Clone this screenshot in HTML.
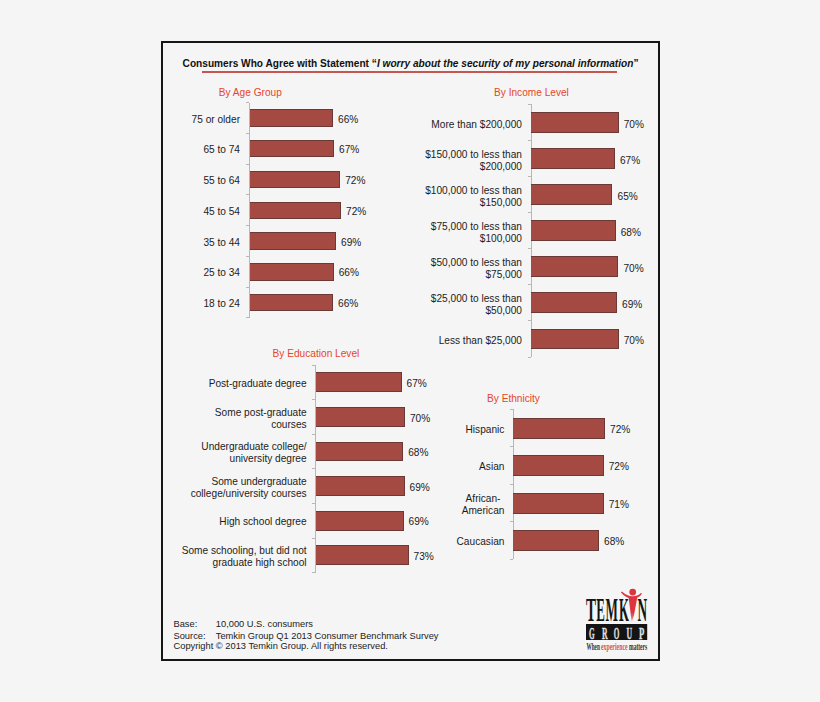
<!DOCTYPE html>
<html><head><meta charset="utf-8"><style>
html,body{margin:0;padding:0;}
body{width:820px;height:702px;background:#f5f5f5;position:relative;overflow:hidden;font-family:"Liberation Sans", Arial, sans-serif;color:#1c1c1c;}
.box{position:absolute;left:161px;top:41px;width:495px;height:616px;border:2px solid #161616;}
.t{position:absolute;left:182.6px;top:58.4px;font-size:10.15px;font-weight:bold;white-space:nowrap;color:#111;}
.ul{position:absolute;left:202.2px;top:71.4px;width:414.8px;height:1.9px;background:#c55752;}
.h{position:absolute;font-size:10.15px;color:#e5452a;white-space:nowrap;line-height:11.7px;}
.ax{position:absolute;width:1.2px;background:#b8b8b8;}
.tk{position:absolute;width:3px;height:1px;background:#b8b8b8;}
.b{position:absolute;box-sizing:border-box;background:#a54a43;border:1px solid #6c3a36;border-left:0;}
.l{position:absolute;font-size:10.15px;line-height:11.9px;text-align:right;white-space:nowrap;}
.v{position:absolute;font-size:10.15px;line-height:11.9px;white-space:nowrap;}
.f{position:absolute;font-size:9.3px;line-height:10.9px;white-space:nowrap;color:#1c1c1c;}
.logo{position:absolute;left:0;top:0;}
</style></head><body>
<div class="box"></div>
<div class="t">Consumers Who Agree with Statement &#8220;<i>I worry about the security of my personal information</i>&#8221;</div>
<div class="ul"></div>
<div class="h" style="left:218.80px;top:86.50px">By Age Group</div>
<div class="ax" style="left:249.20px;top:102.60px;height:215.39px"></div>
<div class="tk" style="left:246.20px;top:102.10px"></div>
<div class="tk" style="left:246.20px;top:132.87px"></div>
<div class="tk" style="left:246.20px;top:163.64px"></div>
<div class="tk" style="left:246.20px;top:194.41px"></div>
<div class="tk" style="left:246.20px;top:225.18px"></div>
<div class="tk" style="left:246.20px;top:255.95px"></div>
<div class="tk" style="left:246.20px;top:286.72px"></div>
<div class="tk" style="left:246.20px;top:317.49px"></div>
<div class="b" style="left:249.50px;top:109.28px;width:83.50px;height:17.40px"></div>
<div class="l" style="right:580.00px;top:113.63px;">75 or older</div>
<div class="v" style="left:338.00px;top:113.63px">66%</div>
<div class="b" style="left:249.50px;top:140.06px;width:84.50px;height:17.40px"></div>
<div class="l" style="right:580.00px;top:144.41px;">65 to 74</div>
<div class="v" style="left:339.00px;top:144.41px">67%</div>
<div class="b" style="left:249.50px;top:170.82px;width:90.70px;height:17.40px"></div>
<div class="l" style="right:580.00px;top:175.17px;">55 to 64</div>
<div class="v" style="left:345.20px;top:175.17px">72%</div>
<div class="b" style="left:249.50px;top:201.59px;width:91.50px;height:17.40px"></div>
<div class="l" style="right:580.00px;top:205.94px;">45 to 54</div>
<div class="v" style="left:346.00px;top:205.94px">72%</div>
<div class="b" style="left:249.50px;top:232.37px;width:86.50px;height:17.40px"></div>
<div class="l" style="right:580.00px;top:236.72px;">35 to 44</div>
<div class="v" style="left:341.00px;top:236.72px">69%</div>
<div class="b" style="left:249.50px;top:263.13px;width:84.20px;height:17.40px"></div>
<div class="l" style="right:580.00px;top:267.49px;">25 to 34</div>
<div class="v" style="left:338.70px;top:267.49px">66%</div>
<div class="b" style="left:249.50px;top:293.90px;width:83.50px;height:17.40px"></div>
<div class="l" style="right:580.00px;top:298.25px;">18 to 24</div>
<div class="v" style="left:338.00px;top:298.25px">66%</div>
<div class="h" style="left:494.00px;top:86.50px">By Income Level</div>
<div class="ax" style="left:530.60px;top:104.30px;height:252.70px"></div>
<div class="tk" style="left:527.60px;top:103.80px"></div>
<div class="tk" style="left:527.60px;top:139.90px"></div>
<div class="tk" style="left:527.60px;top:176.00px"></div>
<div class="tk" style="left:527.60px;top:212.10px"></div>
<div class="tk" style="left:527.60px;top:248.20px"></div>
<div class="tk" style="left:527.60px;top:284.30px"></div>
<div class="tk" style="left:527.60px;top:320.40px"></div>
<div class="tk" style="left:527.60px;top:356.50px"></div>
<div class="b" style="left:530.90px;top:111.95px;width:87.80px;height:20.80px"></div>
<div class="l" style="right:298.00px;top:118.60px;">More than $200,000</div>
<div class="v" style="left:623.70px;top:118.60px">70%</div>
<div class="b" style="left:530.90px;top:148.05px;width:84.00px;height:20.80px"></div>
<div class="l" style="right:298.00px;top:148.75px;">$150,000 to less than<br>$200,000</div>
<div class="v" style="left:619.90px;top:154.70px">67%</div>
<div class="b" style="left:530.90px;top:184.15px;width:81.60px;height:20.80px"></div>
<div class="l" style="right:298.00px;top:184.85px;">$100,000 to less than<br>$150,000</div>
<div class="v" style="left:617.50px;top:190.80px">65%</div>
<div class="b" style="left:530.90px;top:220.25px;width:84.80px;height:20.80px"></div>
<div class="l" style="right:298.00px;top:220.95px;">$75,000 to less than<br>$100,000</div>
<div class="v" style="left:620.70px;top:226.90px">68%</div>
<div class="b" style="left:530.90px;top:256.35px;width:87.50px;height:20.80px"></div>
<div class="l" style="right:298.00px;top:257.05px;">$50,000 to less than<br>$75,000</div>
<div class="v" style="left:623.40px;top:263.00px">70%</div>
<div class="b" style="left:530.90px;top:292.45px;width:86.10px;height:20.80px"></div>
<div class="l" style="right:298.00px;top:293.15px;">$25,000 to less than<br>$50,000</div>
<div class="v" style="left:622.00px;top:299.10px">69%</div>
<div class="b" style="left:530.90px;top:328.55px;width:87.80px;height:20.80px"></div>
<div class="l" style="right:298.00px;top:335.20px;">Less than $25,000</div>
<div class="v" style="left:623.70px;top:335.20px">70%</div>
<div class="h" style="left:272.60px;top:348.10px">By Education Level</div>
<div class="ax" style="left:315.20px;top:365.00px;height:207.60px"></div>
<div class="tk" style="left:312.20px;top:364.50px"></div>
<div class="tk" style="left:312.20px;top:399.10px"></div>
<div class="tk" style="left:312.20px;top:433.70px"></div>
<div class="tk" style="left:312.20px;top:468.30px"></div>
<div class="tk" style="left:312.20px;top:502.90px"></div>
<div class="tk" style="left:312.20px;top:537.50px"></div>
<div class="tk" style="left:312.20px;top:572.10px"></div>
<div class="b" style="left:315.50px;top:372.45px;width:86.00px;height:19.70px"></div>
<div class="l" style="right:513.40px;top:377.95px;">Post-graduate degree</div>
<div class="v" style="left:406.50px;top:377.95px">67%</div>
<div class="b" style="left:315.50px;top:407.05px;width:89.40px;height:19.70px"></div>
<div class="l" style="right:513.40px;top:406.60px;">Some post-graduate<br>courses</div>
<div class="v" style="left:409.90px;top:412.55px">70%</div>
<div class="b" style="left:315.50px;top:441.65px;width:87.70px;height:19.70px"></div>
<div class="l" style="right:513.40px;top:441.20px;">Undergraduate college/<br>university degree</div>
<div class="v" style="left:408.20px;top:447.15px">68%</div>
<div class="b" style="left:315.50px;top:476.25px;width:89.00px;height:19.70px"></div>
<div class="l" style="right:513.40px;top:475.80px;">Some undergraduate<br>college/university courses</div>
<div class="v" style="left:409.50px;top:481.75px">69%</div>
<div class="b" style="left:315.50px;top:510.85px;width:88.00px;height:19.70px"></div>
<div class="l" style="right:513.40px;top:516.35px;">High school degree</div>
<div class="v" style="left:408.50px;top:516.35px">69%</div>
<div class="b" style="left:315.50px;top:545.45px;width:93.10px;height:19.70px"></div>
<div class="l" style="right:513.40px;top:545.00px;">Some schooling, but did not<br>graduate high school</div>
<div class="v" style="left:413.60px;top:550.95px">73%</div>
<div class="h" style="left:487.00px;top:392.70px">By Ethnicity</div>
<div class="ax" style="left:512.60px;top:409.40px;height:150.00px"></div>
<div class="tk" style="left:509.60px;top:408.90px"></div>
<div class="tk" style="left:509.60px;top:446.40px"></div>
<div class="tk" style="left:509.60px;top:483.90px"></div>
<div class="tk" style="left:509.60px;top:521.40px"></div>
<div class="tk" style="left:509.60px;top:558.90px"></div>
<div class="b" style="left:512.90px;top:417.70px;width:92.10px;height:20.90px"></div>
<div class="l" style="right:315.60px;top:423.80px;text-align:center;">Hispanic</div>
<div class="v" style="left:610.00px;top:423.80px">72%</div>
<div class="b" style="left:512.90px;top:455.20px;width:90.80px;height:20.90px"></div>
<div class="l" style="right:315.60px;top:461.30px;text-align:center;">Asian</div>
<div class="v" style="left:608.70px;top:461.30px">72%</div>
<div class="b" style="left:512.90px;top:492.70px;width:90.80px;height:20.90px"></div>
<div class="l" style="right:315.60px;top:492.85px;text-align:center;">African-<br>American</div>
<div class="v" style="left:608.70px;top:498.80px">71%</div>
<div class="b" style="left:512.90px;top:530.20px;width:86.20px;height:20.90px"></div>
<div class="l" style="right:315.60px;top:536.30px;text-align:center;">Caucasian</div>
<div class="v" style="left:604.10px;top:536.30px">68%</div>
<div class="f" style="left:173.5px;top:619.3px">Base:</div>
<div class="f" style="left:215.8px;top:619.3px">10,000 U.S. consumers</div>
<div class="f" style="left:173.5px;top:630.6px">Source:</div>
<div class="f" style="left:215.8px;top:630.6px">Temkin Group Q1 2013 Consumer Benchmark Survey</div>
<div class="f" style="left:173.5px;top:641.1px">Copyright &#169; 2013 Temkin Group. All rights reserved.</div>
<svg class="logo" width="820" height="702" viewBox="0 0 820 702">
<g font-family="Liberation Serif, serif" font-weight="bold" font-size="34" fill="#151515">
<text x="586.0" y="621.1" textLength="10.0" lengthAdjust="spacingAndGlyphs">T</text>
<text x="596.3" y="621.1" textLength="8.6" lengthAdjust="spacingAndGlyphs">E</text>
<text x="605.6" y="621.1" textLength="12.4" lengthAdjust="spacingAndGlyphs">M</text>
<text x="619.0" y="621.1" textLength="9.9" lengthAdjust="spacingAndGlyphs">K</text>
<text x="637.4" y="621.1" textLength="9.6" lengthAdjust="spacingAndGlyphs">N</text>
</g>
<defs><linearGradient id="bodyg" x1="0" y1="0" x2="0" y2="1"><stop offset="0" stop-color="#dd3540"/><stop offset="0.62" stop-color="#dd3540"/><stop offset="1" stop-color="#eb9a9c"/></linearGradient></defs>
<g fill="#dd3540">
<circle cx="632.7" cy="592.1" r="3.4"/>
<path d="M620.8 592.2 Q626 598.6 632.5 598.2 Q639 598.6 642 593.4 L641 592.9 Q637.5 596.2 632.5 596.2 Q627 596.2 622 591.5 Z"/>
<path d="M628.6 597 L637.4 597 L634 615 L631.8 621.8 L630.8 615 Z" fill="url(#bodyg)"/>
</g>
<rect x="586" y="624" width="61.2" height="16" fill="#141414"/>
<g font-family="Liberation Serif, serif" font-weight="bold" font-size="17.6" fill="#e0e0e0" stroke="#e0e0e0" stroke-width="0.35">
<text x="588.9" y="638.9" textLength="5.6" lengthAdjust="spacingAndGlyphs">G</text>
<text x="601.9" y="638.9" textLength="5.6" lengthAdjust="spacingAndGlyphs">R</text>
<text x="613.8" y="638.9" textLength="5.6" lengthAdjust="spacingAndGlyphs">O</text>
<text x="626.6" y="638.9" textLength="5.6" lengthAdjust="spacingAndGlyphs">U</text>
<text x="638.9" y="638.9" textLength="5.3" lengthAdjust="spacingAndGlyphs">P</text>
</g>
<g font-family="Liberation Serif, serif" font-weight="bold" font-size="10.4">
<text x="586.4" y="650.4" textLength="13.4" lengthAdjust="spacingAndGlyphs" fill="#333">When</text>
<text x="601" y="650.4" textLength="26.6" lengthAdjust="spacingAndGlyphs" fill="#d8505a">experience</text>
<text x="629" y="650.4" textLength="18.2" lengthAdjust="spacingAndGlyphs" fill="#333">matters</text>
</g>
</svg>
</body></html>
